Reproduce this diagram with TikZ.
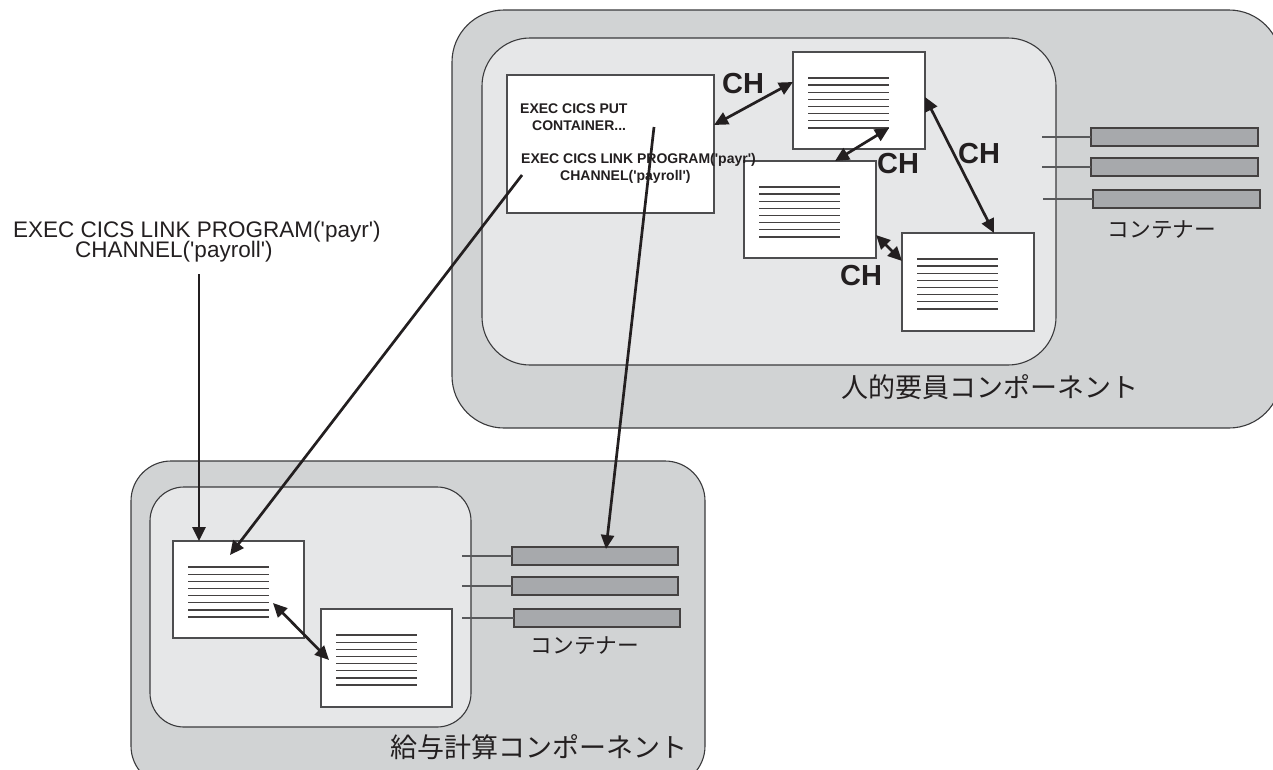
\documentclass[tikz,border=0pt]{standalone}
\usepackage{fontspec}
\setmainfont{Liberation Sans}
\newfontfamily\jpfont{Noto Sans CJK JP}
\usetikzlibrary{arrows.meta}
\definecolor{outerg}{HTML}{D1D3D4}
\definecolor{innerg}{HTML}{E6E7E8}
\definecolor{barg}{HTML}{A7A9AC}
\definecolor{ink}{HTML}{231F20}
\definecolor{bordc}{HTML}{3A3A3C}
\definecolor{docb}{HTML}{4D4D4F}
\definecolor{stubc}{HTML}{58595B}
\newcommand{\sq}{\textquotesingle}
\tikzset{
  outerbox/.style={draw=bordc, line width=1.1pt, fill=outerg, rounded corners=52pt},
  innerbox/.style={draw=bordc, line width=1.1pt, fill=innerg, rounded corners=48pt},
  doc/.style={draw=docb, line width=1.4pt, fill=white, minimum width=132pt, minimum height=97pt, inner sep=0pt, outer sep=0pt},
  progbox/.style={draw=docb, line width=1.4pt, fill=white, minimum width=207pt, minimum height=138pt, inner sep=0pt, outer sep=0pt},
  bar/.style={draw=ink!85, line width=1.4pt, fill=barg, minimum width=167pt, minimum height=18pt, inner sep=0pt, outer sep=0pt},
  stub/.style={draw=stubc, line width=1.3pt},
  docline/.style={draw=ink!85, line width=1.3pt},
  conn/.style={draw=ink, line width=2.7pt, -{Triangle[length=14pt,width=13pt]}},
  dconn/.style={draw=ink, line width=2.7pt, {Triangle[length=14pt,width=13pt]}-{Triangle[length=14pt,width=13pt]}},
  chlabel/.style={font=\fontsize{29}{29}\selectfont\bfseries, text=ink, inner sep=0pt, anchor=base west},
  progtxt/.style={font=\fontsize{14}{14}\selectfont\bfseries, text=ink, inner sep=0pt, anchor=base west},
  lefttxt/.style={font=\fontsize{22.5}{22.5}\selectfont, text=ink, inner sep=0pt, anchor=base west},
  complabel/.style={font=\jpfont\fontsize{27}{27}\selectfont, text=ink, inner sep=0pt},
  contlabel/.style={font=\jpfont\fontsize{21.7}{21.7}\selectfont, text=ink, inner sep=0pt}
}
\newcommand{\doclines}[1]{%
  \foreach \i in {0,...,7} {%
    \draw[docline] ([xshift=15pt,yshift={-26pt-\i*7.14pt}]#1.north west) -- ++(81pt,0pt);
  }%
}
\begin{document}
\begin{tikzpicture}[x=1pt,y=-1pt]
\useasboundingbox (0,0) rectangle (1273,769);
\clip (0,0) rectangle (1273,769);

% ---- top component ----
\draw[outerbox] (452,10) rectangle (1281,428);
\draw[innerbox] (482,38) rectangle (1056,365);

\node[progbox] (prog) at (610.5,144) {};
\node[doc] (A) at (859,100.5) {};
\node[doc, minimum height=98pt] (C) at (968,282) {};
\node[doc] (B) at (810,209.5) {};
\doclines{A}
\doclines{B}
\doclines{C}

\node[bar] (tb1) at (1174.5,137) {};
\node[bar] (tb2) at (1174.5,167) {};
\node[bar] (tb3) at (1176.5,199) {};
\draw[stub] (tb1.west) -- ++(-49pt,0pt);
\draw[stub] (tb2.west) -- ++(-49pt,0pt);
\draw[stub] (tb3.west) -- ++(-50pt,0pt);
\node[contlabel] (tcont) at (1162,230) {コンテナー};
\node[complabel] (tcomp) at (990,387) {人的要員コンポーネント};

\node[progtxt] (p1) at (520,113) {EXEC CICS PUT};
\node[progtxt] (p2) at (532,130) {CONTAINER...};
\node[progtxt] (p3) at (521,163) {EXEC CICS LINK PROGRAM(\sq payr\sq)};
\node[progtxt] (p4) at (560,180) {CHANNEL(\sq payroll\sq)};

\node[chlabel] (ch1) at (722,93) {CH};
\node[chlabel] (ch2) at (877,173) {CH};
\node[chlabel] (ch3) at (958,163) {CH};
\node[chlabel] (ch4) at (840,285) {CH};

\draw[dconn] ([yshift=19pt]prog.east) -- ([yshift=18.5pt]A.west);
\draw[dconn] ([shift={(-36pt,21pt)}]A.south east) -- ([xshift=25pt]B.north);
\draw[dconn] ([yshift=3.5pt]A.east) -- ([xshift=26pt]C.north);
\draw[dconn] ([yshift=-25.5pt]B.east) -- ([yshift=21pt]C.west);

% ---- bottom component ----
\draw[outerbox, rounded corners=40pt] (131,461) rectangle (705,786);
\draw[innerbox, rounded corners=34pt] (150,487) rectangle (471,727);

\node[doc, minimum width=131pt] (D) at (238.5,589.5) {};
\node[doc, minimum width=131pt, minimum height=98pt] (E) at (386.5,658) {};
\doclines{D}
\doclines{E}

\node[bar, minimum width=166pt] (bb1) at (595,556) {};
\node[bar, minimum width=166pt] (bb2) at (595,586) {};
\node[bar, minimum width=166pt] (bb3) at (597,618) {};
\draw[stub] (bb1.west) -- ++(-50pt,0pt);
\draw[stub] (bb2.west) -- ++(-50pt,0pt);
\draw[stub] (bb3.west) -- ++(-52pt,0pt);
\node[contlabel] (bcont) at (585,646) {コンテナー};
\node[complabel] (bcomp) at (539,747) {給与計算コンポーネント};

\draw[dconn] ([shift={(-31pt,35pt)}]D.south east) -- ([shift={(8pt,-2pt)}]E.west);

% ---- left caller ----
\node[lefttxt] (l1) at (13,237) {EXEC CICS LINK PROGRAM(\sq payr\sq)};
\node[lefttxt] (l2) at (75,257) {CHANNEL(\sq payroll\sq)};
\coordinate (lstart) at (199,274);

% ---- long connectors ----
\draw[conn] (lstart) -- ([xshift=-39.5pt]D.north);
\draw[conn] ([shift={(15pt,38pt)}]prog.south west) -- ([shift={(-8.5pt,-14pt)}]D.north);
\draw[conn] ([shift={(43.5pt,17pt)}]prog.center) -- ([shift={(11pt,-2pt)}]bb1.north);
\end{tikzpicture}
\end{document}
